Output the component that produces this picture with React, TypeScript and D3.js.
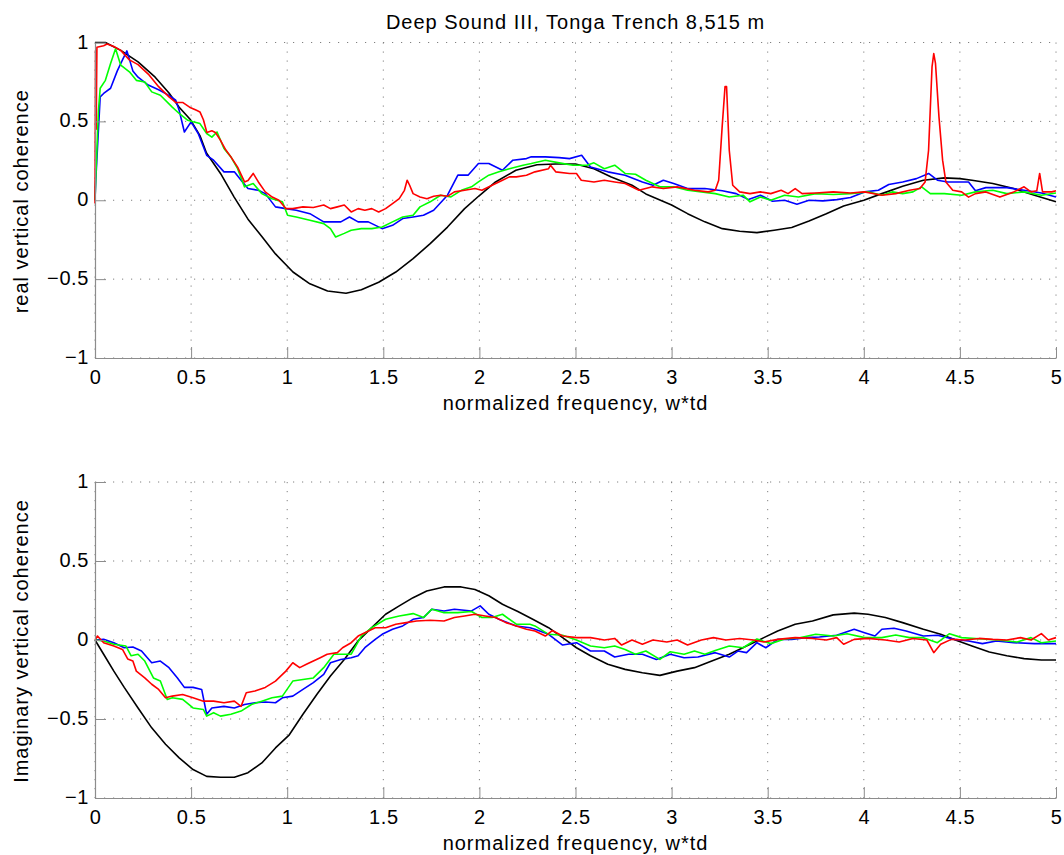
import { useEffect, useRef } from 'react';
import * as d3 from 'd3';

type Pt = [number, number];

const xTicks = [0, 0.5, 1, 1.5, 2, 2.5, 3, 3.5, 4, 4.5, 5];
const yTicks = [-1, -0.5, 0, 0.5, 1];

const title = 'Deep Sound III, Tonga Trench 8,515 m';
const xLabel = 'normalized frequency, w*td';
const yLabelTop = 'real vertical coherence';
const yLabelBottom = 'Imaginary vertical coherence';

// real part: theory (black) and three measured records
const realModel: Pt[] = [
  [0, 1], [0.054, 1.0], [0.134, 0.95], [0.224, 0.877], [0.313, 0.78], [0.385, 0.68], [0.438, 0.59],
  [0.497, 0.51], [0.546, 0.41], [0.58, 0.3], [0.653, 0.17], [0.724, 0.02], [0.796, -0.12], [0.868, -0.23],
  [0.939, -0.34], [1.03, -0.455], [1.118, -0.53], [1.21, -0.575], [1.306, -0.59], [1.386, -0.567],
  [1.476, -0.52], [1.565, -0.455], [1.655, -0.37], [1.744, -0.275], [1.834, -0.17], [1.923, -0.053],
  [2.0, 0.03], [2.084, 0.116], [2.19, 0.19], [2.3, 0.225], [2.397, 0.23], [2.5, 0.23], [2.596, 0.2],
  [2.686, 0.148], [2.794, 0.095], [2.866, 0.04], [3.0, -0.03], [3.083, -0.085], [3.173, -0.137],
  [3.264, -0.18], [3.354, -0.197], [3.444, -0.205], [3.534, -0.19], [3.625, -0.173], [3.715, -0.131],
  [3.805, -0.085], [3.895, -0.036], [4.0, 0], [4.094, 0.042], [4.202, 0.089], [4.31, 0.127],
  [4.419, 0.142], [4.5, 0.137], [4.563, 0.127], [4.671, 0.106], [4.78, 0.074], [4.888, 0.032], [5.0, -0.01],
];

const realRed: Pt[] = [
  [0, -0.02], [0.003, 0.95], [0.006, 0.45], [0.01, 0.97], [0.045, 0.98], [0.063, 0.99], [0.098, 0.975],
  [0.134, 0.95], [0.179, 0.89], [0.224, 0.86], [0.277, 0.8], [0.331, 0.72], [0.385, 0.655], [0.42, 0.62],
  [0.456, 0.62], [0.492, 0.59], [0.528, 0.57], [0.546, 0.56], [0.564, 0.51], [0.582, 0.43], [0.608, 0.44],
  [0.626, 0.43], [0.653, 0.38], [0.68, 0.32], [0.707, 0.275], [0.742, 0.21], [0.778, 0.116], [0.796, 0.125],
  [0.823, 0.17], [0.85, 0.116], [0.886, 0.053], [0.922, 0.02], [0.957, 0], [0.993, -0.053], [1.029, -0.053],
  [1.082, -0.042], [1.136, -0.046], [1.19, -0.03], [1.225, -0.053], [1.261, -0.042], [1.297, -0.03],
  [1.333, -0.074], [1.369, -0.053], [1.404, -0.063], [1.44, -0.053], [1.476, -0.074], [1.512, -0.053],
  [1.548, -0.021], [1.583, 0.01], [1.61, 0.063], [1.624, 0.127], [1.637, 0.095], [1.655, 0.042],
  [1.691, 0.021], [1.727, 0.01], [1.762, 0.025], [1.798, 0.032], [1.834, 0.025], [1.87, 0.053],
  [1.923, 0.063], [1.977, 0.074], [2.013, 0.063], [2.066, 0.095], [2.12, 0.127], [2.156, 0.148],
  [2.192, 0.148], [2.245, 0.159], [2.289, 0.18], [2.36, 0.2], [2.37, 0.222], [2.397, 0.18], [2.469, 0.17],
  [2.505, 0.17], [2.53, 0.127], [2.596, 0.116], [2.65, 0.127], [2.704, 0.116], [2.758, 0.106], [2.83, 0.063],
  [2.9, 0.085], [2.957, 0.074], [3.029, 0.085], [3.119, 0.063], [3.19, 0.053], [3.227, 0.063], [3.245, 0.127],
  [3.263, 0.465], [3.278, 0.72], [3.286, 0.72], [3.3, 0.317], [3.318, 0.095], [3.354, 0.053], [3.408, 0.042],
  [3.462, 0.053], [3.516, 0.042], [3.57, 0.063], [3.606, 0.042], [3.643, 0.074], [3.679, 0.042],
  [3.75, 0.046], [3.841, 0.053], [3.931, 0.046], [4.004, 0.053], [4.094, 0.032], [4.166, 0.042],
  [4.238, 0.063], [4.292, 0.074], [4.319, 0.116], [4.337, 0.317], [4.355, 0.845], [4.364, 0.93],
  [4.373, 0.867], [4.391, 0.53], [4.41, 0.254], [4.427, 0.116], [4.463, 0.063], [4.509, 0.053],
  [4.545, 0.02], [4.581, 0.042], [4.635, 0.053], [4.708, 0.02], [4.78, 0.053], [4.834, 0.085],
  [4.87, 0.053], [4.9, 0.06], [4.915, 0.17], [4.93, 0.053], [4.978, 0.053], [5.0, 0.06],
];

const realBlue: Pt[] = [
  [0, 0.0], [0.004, 0.127], [0.027, 0.655], [0.045, 0.677], [0.081, 0.71], [0.116, 0.82], [0.143, 0.89],
  [0.166, 0.947], [0.197, 0.82], [0.224, 0.78], [0.277, 0.73], [0.331, 0.7], [0.385, 0.665], [0.42, 0.634],
  [0.438, 0.57], [0.465, 0.433], [0.5, 0.497], [0.537, 0.423], [0.581, 0.285], [0.617, 0.254], [0.671, 0.18],
  [0.725, 0.18], [0.76, 0.127], [0.796, 0.074], [0.85, 0.063], [0.886, 0.042], [0.939, -0.042],
  [0.993, -0.053], [1.047, -0.063], [1.118, -0.085], [1.19, -0.137], [1.279, -0.137], [1.324, -0.106],
  [1.369, -0.137], [1.422, -0.137], [1.494, -0.18], [1.548, -0.159], [1.601, -0.116], [1.655, -0.106],
  [1.709, -0.095], [1.762, -0.063], [1.834, 0.032], [1.888, 0.159], [1.941, 0.159], [1.995, 0.233],
  [2.049, 0.233], [2.12, 0.19], [2.174, 0.254], [2.245, 0.264], [2.27, 0.275], [2.343, 0.275],
  [2.415, 0.27], [2.469, 0.264], [2.532, 0.285], [2.578, 0.211], [2.668, 0.18], [2.758, 0.159],
  [2.848, 0.116], [2.903, 0.095], [2.957, 0.127], [3.011, 0.106], [3.083, 0.074], [3.173, 0.074],
  [3.264, 0.06], [3.336, 0.042], [3.4, 0.004], [3.462, 0.032], [3.525, -0.006], [3.588, 0], [3.652, -0.025],
  [3.715, 0], [3.787, -0.004], [3.86, 0.004], [3.931, 0.017], [4.004, 0.053], [4.076, 0.063], [4.13, 0.1],
  [4.202, 0.116], [4.274, 0.137], [4.337, 0.17], [4.383, 0.127], [4.437, 0.116], [4.545, 0.116],
  [4.581, 0.06], [4.635, 0.08], [4.744, 0.08], [4.834, 0.063], [4.924, 0.046], [5.0, 0.02],
];

const realGreen: Pt[] = [
  [0, 0.0], [0.005, 0.17], [0.018, 0.57], [0.027, 0.71], [0.054, 0.76], [0.081, 0.867], [0.107, 0.96],
  [0.134, 0.856], [0.179, 0.814], [0.215, 0.76], [0.259, 0.75], [0.295, 0.687], [0.34, 0.666],
  [0.402, 0.59], [0.438, 0.55], [0.483, 0.507], [0.51, 0.497], [0.546, 0.486], [0.581, 0.423],
  [0.608, 0.4], [0.635, 0.433], [0.671, 0.328], [0.707, 0.275], [0.742, 0.2], [0.778, 0.085],
  [0.823, 0.106], [0.868, 0.042], [0.921, 0.01], [0.975, -0.01], [1.002, -0.095], [1.047, -0.106],
  [1.118, -0.127], [1.19, -0.148], [1.225, -0.18], [1.252, -0.233], [1.297, -0.21], [1.333, -0.19],
  [1.386, -0.18], [1.44, -0.18], [1.494, -0.17], [1.548, -0.137], [1.601, -0.106], [1.655, -0.095],
  [1.691, -0.042], [1.744, -0.01], [1.798, 0.032], [1.852, 0.021], [1.906, 0.063], [1.959, 0.085],
  [1.995, 0.116], [2.049, 0.159], [2.102, 0.18], [2.156, 0.2], [2.227, 0.222], [2.27, 0.233],
  [2.343, 0.254], [2.415, 0.237], [2.487, 0.222], [2.56, 0.222], [2.596, 0.237], [2.65, 0.2],
  [2.704, 0.222], [2.758, 0.17], [2.812, 0.165], [2.866, 0.127], [2.939, 0.085], [3.011, 0.085],
  [3.083, 0.063], [3.155, 0.053], [3.227, 0.042], [3.3, 0.021], [3.372, 0.032], [3.408, -0.01],
  [3.462, 0.021], [3.516, 0], [3.588, 0.032], [3.66, 0.021], [3.75, 0.042], [3.841, 0.036], [3.931, 0.042],
  [4.022, 0.053], [4.094, 0.032], [4.148, 0.053], [4.202, 0.042], [4.256, 0.053], [4.301, 0.085],
  [4.346, 0.042], [4.419, 0.042], [4.509, 0.032], [4.581, 0.053], [4.671, 0.063], [4.744, 0.042],
  [4.834, 0.053], [4.924, 0.032], [5.0, 0.046],
];

// imaginary part
const imagModel: Pt[] = [
  [0, 0], [0.045, -0.09], [0.098, -0.197], [0.152, -0.3], [0.224, -0.43], [0.295, -0.556], [0.367, -0.66],
  [0.438, -0.746], [0.51, -0.82], [0.581, -0.863], [0.653, -0.869], [0.725, -0.869], [0.796, -0.84],
  [0.868, -0.778], [0.939, -0.683], [1.011, -0.6], [1.082, -0.47], [1.154, -0.345], [1.225, -0.228],
  [1.297, -0.123], [1.369, -0.006], [1.44, 0.078], [1.512, 0.163], [1.583, 0.216], [1.655, 0.268],
  [1.726, 0.31], [1.816, 0.336], [1.905, 0.336], [1.977, 0.32], [2.049, 0.28], [2.12, 0.226],
  [2.2, 0.18], [2.28, 0.13], [2.36, 0.078], [2.433, 0.015], [2.505, -0.049], [2.578, -0.1], [2.668, -0.154],
  [2.758, -0.186], [2.848, -0.207], [2.939, -0.224], [3.029, -0.197], [3.119, -0.175], [3.209, -0.133],
  [3.3, -0.09], [3.39, -0.038], [3.48, 0.015], [3.552, 0.057], [3.643, 0.1], [3.733, 0.12], [3.841, 0.159],
  [3.95, 0.17], [4.022, 0.163], [4.112, 0.142], [4.202, 0.11], [4.31, 0.068], [4.4, 0.036], [4.491, -0.006],
  [4.563, -0.038], [4.653, -0.076], [4.744, -0.1], [4.834, -0.118], [4.924, -0.127], [5.0, -0.127],
];

const imagRed: Pt[] = [
  [0, 0], [0.013, 0.025], [0.045, -0.017], [0.098, -0.038], [0.143, -0.06], [0.17, -0.12], [0.197, -0.133],
  [0.215, -0.197], [0.259, -0.24], [0.295, -0.28], [0.331, -0.313], [0.367, -0.366], [0.402, -0.355],
  [0.456, -0.345], [0.51, -0.366], [0.564, -0.387], [0.617, -0.387], [0.671, -0.397], [0.725, -0.387],
  [0.76, -0.42], [0.787, -0.334], [0.832, -0.323], [0.886, -0.3], [0.939, -0.26], [0.993, -0.197],
  [1.029, -0.144], [1.065, -0.175], [1.1, -0.154], [1.136, -0.133], [1.172, -0.112], [1.208, -0.09],
  [1.261, -0.08], [1.288, -0.049], [1.333, -0.017], [1.369, 0.025], [1.404, 0.046], [1.458, 0.078],
  [1.512, 0.078], [1.565, 0.1], [1.619, 0.11], [1.673, 0.12], [1.744, 0.125], [1.816, 0.12], [1.87, 0.142],
  [1.923, 0.152], [1.977, 0.163], [2.03, 0.152], [2.084, 0.142], [2.138, 0.11], [2.192, 0.089],
  [2.245, 0.068], [2.289, 0.057], [2.343, 0.025], [2.379, 0.06], [2.433, 0.025], [2.505, 0.015],
  [2.578, 0.015], [2.65, 0], [2.704, 0.01], [2.74, -0.032], [2.794, 0], [2.848, -0.027], [2.903, 0],
  [2.975, -0.013], [3.029, 0], [3.083, -0.032], [3.155, 0], [3.218, 0.015], [3.282, 0], [3.354, 0.01],
  [3.426, 0], [3.48, -0.013], [3.552, 0.004], [3.643, 0.015], [3.733, 0.01], [3.805, 0], [3.859, 0.015],
  [3.895, -0.027], [3.95, 0.004], [4.022, 0.01], [4.112, 0], [4.184, -0.013], [4.256, 0.01], [4.328, 0],
  [4.364, -0.08], [4.4, -0.027], [4.455, 0.004], [4.527, 0], [4.6, 0.01], [4.671, 0.004], [4.744, 0],
  [4.816, 0.015], [4.87, 0], [4.924, 0.04], [4.96, 0], [5.0, 0.015],
];

const imagBlue: Pt[] = [
  [0, 0], [0.045, 0.004], [0.098, -0.017], [0.152, -0.049], [0.197, -0.044], [0.242, -0.07], [0.295, -0.144],
  [0.34, -0.133], [0.385, -0.175], [0.429, -0.24], [0.465, -0.3], [0.51, -0.3], [0.555, -0.313],
  [0.581, -0.47], [0.608, -0.43], [0.671, -0.42], [0.725, -0.43], [0.778, -0.408], [0.832, -0.397],
  [0.886, -0.392], [0.939, -0.397], [0.975, -0.366], [1.029, -0.355], [1.082, -0.313], [1.136, -0.27],
  [1.19, -0.218], [1.225, -0.144], [1.279, -0.123], [1.333, -0.112], [1.369, -0.1], [1.404, -0.049],
  [1.458, 0.004], [1.494, 0.036], [1.548, 0.068], [1.601, 0.089], [1.655, 0.131], [1.709, 0.142],
  [1.753, 0.195], [1.816, 0.184], [1.87, 0.195], [1.959, 0.184], [2.004, 0.216], [2.049, 0.163],
  [2.102, 0.131], [2.192, 0.089], [2.263, 0.078], [2.289, 0.068], [2.36, 0.036], [2.433, -0.032],
  [2.505, -0.017], [2.578, -0.07], [2.65, -0.07], [2.704, -0.108], [2.776, -0.09], [2.848, -0.09],
  [2.921, -0.123], [2.993, -0.09], [3.065, -0.112], [3.137, -0.108], [3.227, -0.08], [3.3, -0.108],
  [3.345, -0.07], [3.39, -0.08], [3.444, -0.017], [3.49, -0.049], [3.552, 0.004], [3.625, 0.004],
  [3.697, 0.015], [3.769, 0.019], [3.859, 0.03], [3.95, 0.068], [4.004, 0.046], [4.058, 0.025],
  [4.094, 0.068], [4.157, 0.074], [4.22, 0.057], [4.31, 0.025], [4.383, 0.03], [4.473, 0.004],
  [4.545, -0.006], [4.617, -0.023], [4.69, -0.006], [4.78, -0.017], [4.888, -0.023], [5.0, -0.023],
];

const imagGreen: Pt[] = [
  [0, 0], [0.045, -0.006], [0.098, -0.027], [0.161, -0.038], [0.188, -0.1], [0.224, -0.09], [0.259, -0.133],
  [0.304, -0.24], [0.34, -0.26], [0.376, -0.376], [0.402, -0.366], [0.456, -0.376], [0.51, -0.43],
  [0.564, -0.44], [0.581, -0.482], [0.617, -0.46], [0.653, -0.482], [0.707, -0.47], [0.76, -0.45],
  [0.814, -0.408], [0.868, -0.387], [0.921, -0.366], [0.975, -0.355], [1.029, -0.26], [1.082, -0.25],
  [1.136, -0.24], [1.19, -0.175], [1.243, -0.09], [1.297, -0.09], [1.333, -0.09], [1.386, 0.025],
  [1.44, 0.078], [1.512, 0.131], [1.583, 0.152], [1.655, 0.167], [1.709, 0.142], [1.753, 0.195],
  [1.816, 0.173], [1.887, 0.173], [1.959, 0.18], [2.013, 0.142], [2.066, 0.142], [2.12, 0.163],
  [2.192, 0.1], [2.263, 0.1], [2.289, 0.089], [2.36, 0.036], [2.433, 0.03], [2.505, 0], [2.578, -0.038],
  [2.65, -0.049], [2.704, -0.038], [2.758, -0.06], [2.812, -0.09], [2.866, -0.07], [2.939, -0.123],
  [2.993, -0.074], [3.065, -0.09], [3.119, -0.07], [3.173, -0.09], [3.227, -0.066], [3.3, -0.038],
  [3.372, -0.049], [3.444, 0.006], [3.516, -0.023], [3.588, 0.006], [3.66, 0.013], [3.75, 0.036],
  [3.841, 0.025], [3.913, 0.04], [4.004, 0.015], [4.094, 0.015], [4.166, 0.032], [4.238, 0.015],
  [4.31, 0.015], [4.383, -0.017], [4.446, 0.04], [4.509, 0.015], [4.6, 0.008], [4.708, -0.002],
  [4.798, -0.013], [4.87, 0.015], [4.924, -0.017], [5.0, -0.006],
];

const W = 1064;
const H = 855;
const FONT = "'Liberation Sans', Arial, Helvetica, sans-serif";

const App = () => {
  const svgRef = useRef<SVGSVGElement>(null);

  useEffect(() => {
    if (!svgRef.current) return;
    document.body.style.margin = '0';

    const svg = d3.select(svgRef.current);
    svg.selectAll('*').remove();

    const left = 95;
    const right = 1056;
    const x = d3.scaleLinear().domain([0, 5]).range([left, right]);

    const panels = [
      { top: 42.5, bottom: 358, ylabel: yLabelTop, series: [realModel, realBlue, realGreen, realRed] },
      { top: 482, bottom: 798, ylabel: yLabelBottom, series: [imagModel, imagBlue, imagGreen, imagRed] },
    ];
    const colors = ['#000000', '#0000ff', '#00ff00', '#ff0000'];

    panels.forEach((p) => {
      const y = d3.scaleLinear().domain([-1, 1]).range([p.bottom, p.top]);
      const g = svg.append('g');

      // dotted grid
      g.selectAll('.gx')
        .data(xTicks)
        .enter()
        .append('line')
        .attr('x1', (d) => x(d))
        .attr('x2', (d) => x(d))
        .attr('y1', p.top)
        .attr('y2', p.bottom)
        .attr('stroke', '#808080')
        .attr('stroke-width', 1)
        .attr('stroke-dasharray', '1.2 7.8');
      g.selectAll('.gy')
        .data(yTicks)
        .enter()
        .append('line')
        .attr('x1', left)
        .attr('x2', right)
        .attr('y1', (d) => y(d))
        .attr('y2', (d) => y(d))
        .attr('stroke', '#808080')
        .attr('stroke-width', 1)
        .attr('stroke-dasharray', '1.2 7.8');

      // curves
      const line = d3
        .line<Pt>()
        .x((d) => x(d[0]))
        .y((d) => y(d[1]));
      p.series.forEach((s, i) => {
        g.append('path')
          .datum(s)
          .attr('fill', 'none')
          .attr('stroke', colors[i])
          .attr('stroke-width', 1.6)
          .attr('stroke-linejoin', 'round')
          .attr('d', line);
      });

      // axes (inward ticks, gray lines)
      const xAxis = d3
        .axisBottom(x)
        .tickValues(xTicks)
        .tickSizeInner(-11)
        .tickSizeOuter(0)
        .tickFormat((d) => String(+d));
      const ax = g.append('g').attr('transform', `translate(0,${p.bottom})`).call(xAxis);
      const yAxis = d3
        .axisLeft(y)
        .tickValues(yTicks)
        .tickSizeInner(-11)
        .tickSizeOuter(0)
        .tickFormat((d) => (+d < 0 ? '\u2212' + Math.abs(+d) : String(+d)));
      const ay = g.append('g').attr('transform', `translate(${left},0)`).call(yAxis);

      [ax, ay].forEach((a) => {
        a.select('.domain').attr('stroke', '#8c8c8c').attr('stroke-width', 1.2);
        a.selectAll('.tick line').attr('stroke', '#8c8c8c');
        a.selectAll('.tick text')
          .attr('fill', '#000')
          .style('font-family', FONT)
          .style('font-size', '20px')
          .style('letter-spacing', '0.6px');
      });
      ax.selectAll('.tick text').attr('y', 26).attr('dy', 0);
      ay.selectAll('.tick text').attr('x', -6).attr('dy', 5.5);

      g.append('text')
        .attr('x', (left + right) / 2)
        .attr('y', p.bottom + 52)
        .attr('text-anchor', 'middle')
        .style('font-family', FONT)
        .style('font-size', '20px')
        .style('letter-spacing', '1px')
        .text(xLabel);

      g.append('text')
        .attr('transform', `translate(28,${(p.top + p.bottom) / 2 + 1}) rotate(-90)`)
        .attr('text-anchor', 'middle')
        .style('font-family', FONT)
        .style('font-size', '20px')
        .style('letter-spacing', '1px')
        .text(p.ylabel);
    });

    svg
      .append('text')
      .attr('x', (left + right) / 2)
      .attr('y', 29)
      .attr('text-anchor', 'middle')
      .style('font-family', FONT)
      .style('font-size', '20px')
      .style('letter-spacing', '1px')
      .text(title);
  }, []);

  return <svg ref={svgRef} width={W} height={H} style={{ display: 'block', background: '#fff' }} />;
};

export default App;
